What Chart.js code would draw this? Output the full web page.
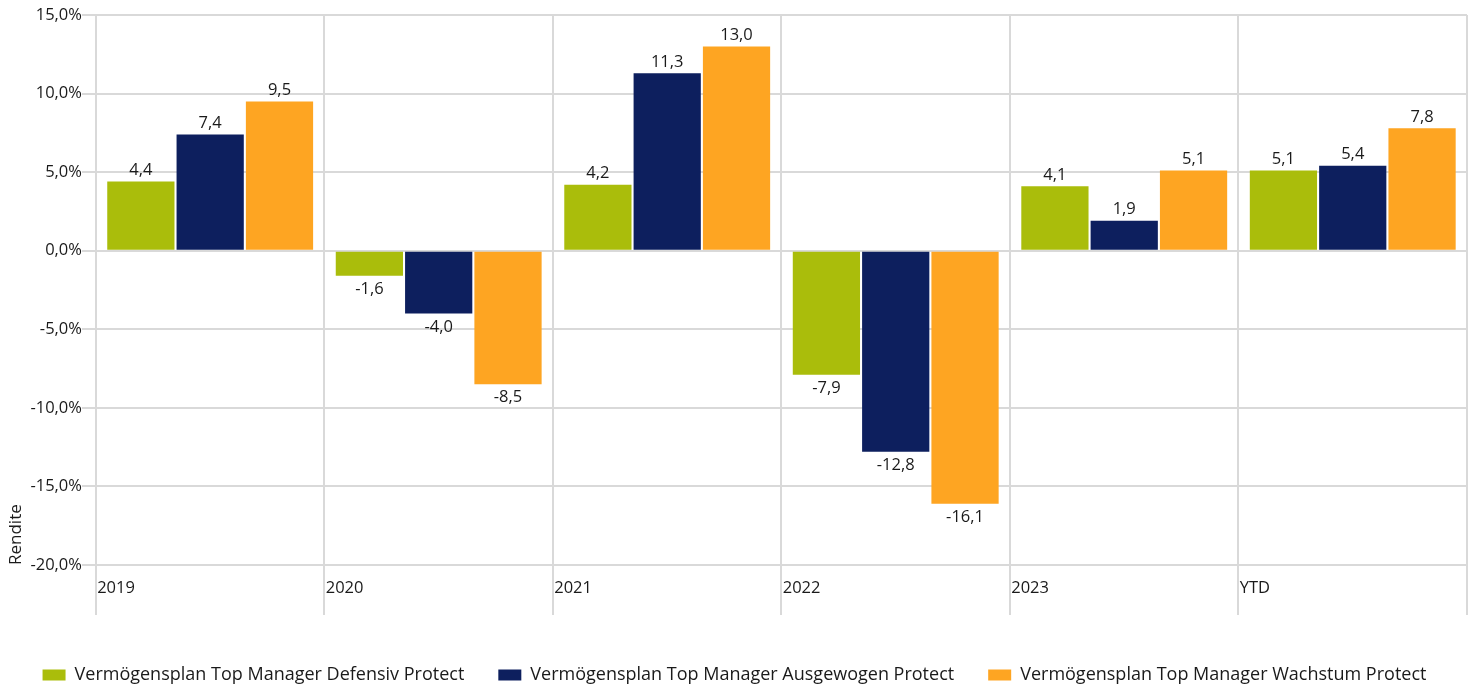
<!DOCTYPE html>
<html>
<head>
<meta charset="utf-8">
<script src="https://cdn.jsdelivr.net/npm/chart.js@4/dist/chart.umd.min.js"></script>
<style>
  html, body { margin: 0; padding: 0; background: #fff; }
  #wrap { width: 1473px; height: 689px; }
</style>
</head>
<body>
<div id="wrap"><canvas id="myChart"></canvas></div>
<script>
// chart values
const categories = ['2019', '2020', '2021', '2022', '2023', 'YTD'];
const seriesNames = [
    'Vermögensplan Top Manager Defensiv Protect',
    'Vermögensplan Top Manager Ausgewogen Protect',
    'Vermögensplan Top Manager Wachstum Protect'
];
const defensiv = [4.4, -1.6, 4.2, -7.9, 4.1, 5.1];
const ausgewogen = [7.4, -4.0, 11.3, -12.8, 1.9, 5.4];
const wachstum = [9.5, -8.5, 13.0, -16.1, 5.1, 7.8];
const yTicks = [-20, -15, -10, -5, 0, 5, 10, 15];

const colors = ['#aabd0b', '#0d1f5e', '#fea522'];
const fontFamily = "'Open Sans', sans-serif";
const textColor = '#1a1a1a';
const gridColor = '#d9d9d9';

function fmt(v) {
    return v.toFixed(1).replace('.', ',');
}

// draws the value above / below each bar
const valueLabels = {
    id: 'valueLabels',
    afterDatasetsDraw(chart) {
        const ctx = chart.ctx;
        ctx.save();
        ctx.font = '16.5px ' + fontFamily;
        ctx.fillStyle = textColor;
        ctx.textAlign = 'center';
        chart.data.datasets.forEach(function (ds, i) {
            const meta = chart.getDatasetMeta(i);
            meta.data.forEach(function (bar, j) {
                const v = ds.data[j];
                if (v >= 0) {
                    ctx.textBaseline = 'bottom';
                    ctx.fillText(fmt(v), bar.x, bar.y - 3);
                } else {
                    ctx.textBaseline = 'top';
                    ctx.fillText(fmt(v), bar.x, bar.y + 5);
                }
            });
        });
        ctx.restore();
    }
};

// the category separators run on below the plot, past the labels
const separatorTails = {
    id: 'separatorTails',
    afterDraw(chart) {
        const x = chart.scales.x;
        const area = chart.chartArea;
        const half = (x.getPixelForValue(1) - x.getPixelForValue(0)) / 2;
        const ctx = chart.ctx;
        ctx.save();
        ctx.strokeStyle = gridColor;
        ctx.lineWidth = 2;
        for (let i = 0; i <= categories.length; i++) {
            const px = Math.round(x.getPixelForValue(i) - half);
            ctx.beginPath();
            ctx.moveTo(px, area.bottom);
            ctx.lineTo(px, area.bottom + 50);
            ctx.stroke();
        }
        ctx.restore();
    }
};

const ctx = document.getElementById('myChart').getContext('2d');
const myChart = new Chart(ctx, {
    type: 'bar',
    data: {
        labels: categories,
        datasets: [defensiv, ausgewogen, wachstum].map(function (d, i) {
            return {
                label: seriesNames[i],
                data: d,
                backgroundColor: colors[i],
                borderWidth: 0,
                categoryPercentage: 0.91,
                barPercentage: 0.97
            };
        })
    },
    options: {
        responsive: true,
        maintainAspectRatio: false,
        animation: false,
        layout: {
            padding: { left: 2, right: 6, top: 15, bottom: -5 }
        },
        plugins: {
            legend: {
                position: 'bottom',
                labels: {
                    boxWidth: 23,
                    boxHeight: 11,
                    padding: 34,
                    color: textColor,
                    font: { family: fontFamily, size: 18 }
                }
            },
            tooltip: { enabled: false }
        },
        scales: {
            x: {
                grid: {
                    offset: true,
                    color: gridColor,
                    lineWidth: 2,
                    drawTicks: false
                },
                border: { display: false },
                afterFit: function (scale) {
                    scale.height = 67;
                },
                ticks: {
                    align: 'start',
                    labelOffset: -113,
                    padding: 13,
                    color: textColor,
                    font: { family: fontFamily, size: 16.5 }
                }
            },
            y: {
                min: -20,
                max: 15,
                afterBuildTicks: function (axis) {
                    axis.ticks = yTicks.map(function (v) { return { value: v }; });
                },
                grid: {
                    color: gridColor,
                    lineWidth: 2,
                    tickLength: 14
                },
                border: { display: false },
                ticks: {
                    padding: 0,
                    color: textColor,
                    font: { family: fontFamily, size: 16.5 },
                    callback: function (v) { return fmt(v) + '%'; }
                },
                title: {
                    display: true,
                    text: 'Rendite',
                    align: 'start',
                    color: textColor,
                    padding: { top: 4, bottom: 4 },
                    font: { family: fontFamily, size: 17 }
                }
            }
        }
    },
    plugins: [valueLabels, separatorTails]
});
</script>
</body>
</html>
